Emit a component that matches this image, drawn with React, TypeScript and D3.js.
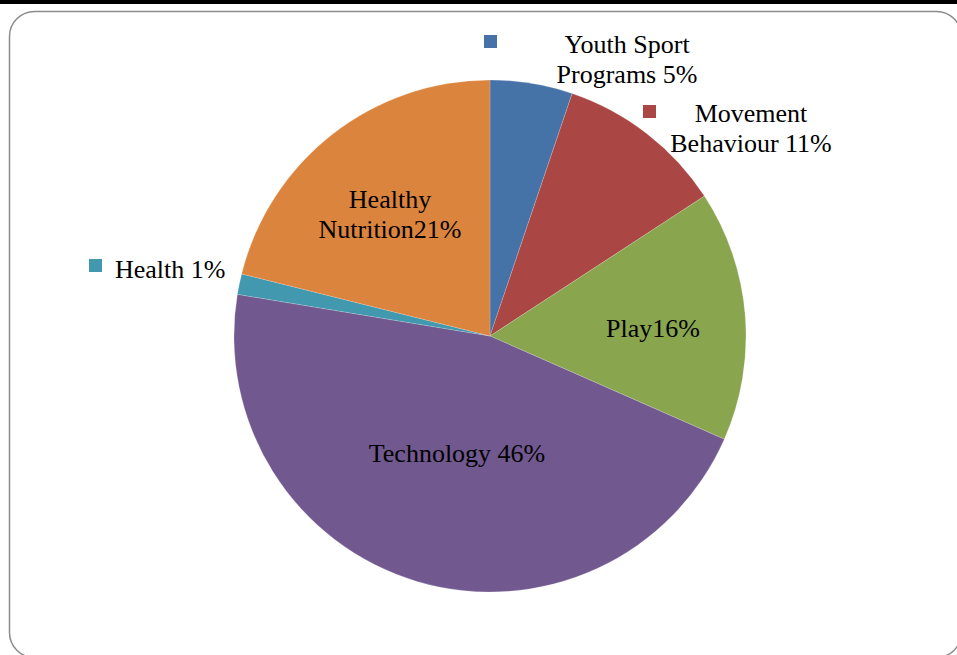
import React from "react";
import * as d3 from "d3";

const categories = ["Youth Sport Programs", "Movement Behaviour", "Play", "Technology", "Health", "Healthy Nutrition"];
const values = [5.2, 10.6, 15.8, 46.0, 1.3, 21.1];
const colors = ["#4572A7", "#AA4643", "#89A54E", "#71588F", "#4198AF", "#DB843D"];
const labelLines = [
  ["Youth Sport", "Programs 5%"],
  ["Movement", "Behaviour 11%"],
  ["Play16%"],
  ["Technology 46%"],
  ["Health 1%"],
  ["Healthy", "Nutrition21%"],
];

const W = 957;
const H = 655;
const cx = 490;
const cy = 336;
const R = 256;

// label placements (anchor x, first baseline y), marker if outside
const labelPos = [
  { x: 627, y: 53, anchor: "middle", marker: [484, 35] },
  { x: 751, y: 122, anchor: "middle", marker: [643, 105] },
  { x: 653, y: 337, anchor: "middle", marker: null },
  { x: 457, y: 462, anchor: "middle", marker: null },
  { x: 115, y: 278, anchor: "start", marker: [89, 259] },
  { x: 390, y: 208, anchor: "middle", marker: null },
];

export default function App() {
  const pie = d3.pie<number>().sort(null).value((d) => d);
  const arcs = pie(values);
  const arc = d3.arc<d3.PieArcDatum<number>>().innerRadius(0).outerRadius(R);

  return (
    <svg
      width={W}
      height={H}
      style={{ position: "absolute", left: 0, top: 0, background: "#fff" }}
      fontFamily="'Liberation Serif', 'Times New Roman', serif"
    >
      <rect x={0} y={0} width={W} height={4} fill="#000" />
      <rect x={9.5} y={11.5} width={952} height={646} rx={25} ry={25} fill="#fff" stroke="#8c8c8c" strokeWidth={1.5} />
      <g transform={`translate(${cx},${cy})`}>
        {arcs.map((a, i) => (
          <path key={categories[i]} d={arc(a) || ""} fill={colors[i]} stroke="#fff" strokeOpacity={0.3} strokeWidth={0.6} />
        ))}
      </g>
      {labelPos.map((p, i) => (
        <g key={"l" + i}>
          {p.marker && <rect x={p.marker[0]} y={p.marker[1]} width={13} height={13} fill={colors[i]} />}
          <text x={p.x} y={p.y} textAnchor={p.anchor as any} fontSize={26} fill="#000">
            {labelLines[i].map((t, j) => (
              <tspan key={j} x={p.x} y={p.y + j * 30}>
                {t}
              </tspan>
            ))}
          </text>
        </g>
      ))}
    </svg>
  );
}
